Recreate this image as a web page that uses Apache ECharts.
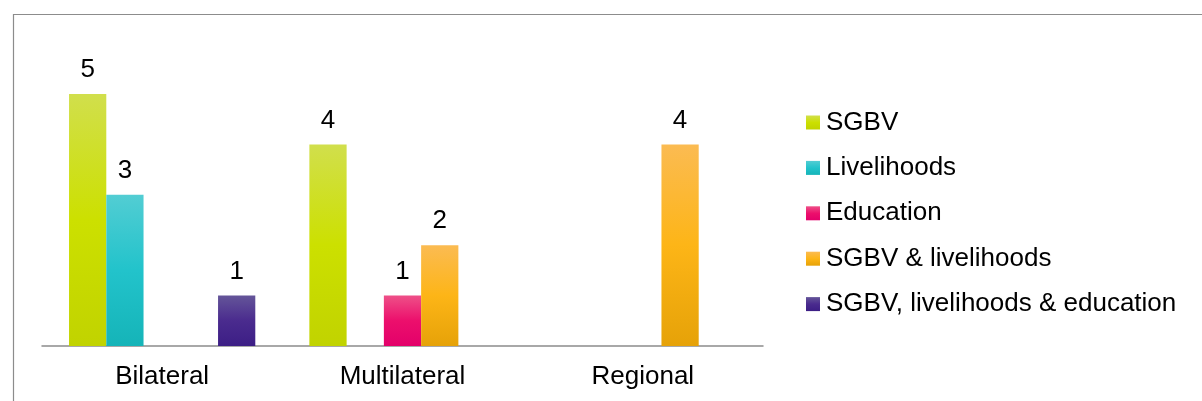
<!DOCTYPE html>
<html>
<head>
<meta charset="utf-8">
<script src="https://cdn.jsdelivr.net/npm/echarts@6/dist/echarts.min.js"></script>
<style>
html,body{margin:0;padding:0;background:#fff;}
#chart{width:1202px;height:401px;}
</style>
</head>
<body>
<div id="chart"></div>
<script>
var categories = ['Bilateral', 'Multilateral', 'Regional'];
var seriesNames = ['SGBV', 'Livelihoods', 'Education', 'SGBV & livelihoods', 'SGBV, livelihoods & education'];
var sgbv = [5, 4, null];
var livelihoods = [3, null, null];
var education = [null, 1, null];
var sgbvLivelihoods = [null, 2, 4];
var sgbvLivEdu = [1, null, null];

var seriesData = [sgbv, livelihoods, education, sgbvLivelihoods, sgbvLivEdu];
var gradients = [
  ['#d1df4c', '#cce000', '#c1d300'],
  ['#52cdd3', '#22c3cb', '#15b4b8'],
  ['#ee5088', '#ec0f6c', '#e3006a'],
  ['#fbbb52', '#fdb517', '#e6a208'],
  ['#645599', '#4a2b8e', '#3c1e85']
];

function grad(c) {
  return new echarts.graphic.LinearGradient(0, 0, 0, 1, [
    {offset: 0, color: c[0]},
    {offset: 0.5, color: c[1]},
    {offset: 1, color: c[2]}
  ]);
}

var FONT = 'Liberation Sans, Arial, sans-serif';

var chart = echarts.init(document.getElementById('chart'), null, {renderer: 'canvas'});
chart.setOption({
  animation: false,
  backgroundColor: '#fff',
  graphic: [{
    type: 'rect',
    shape: {x: 13.5, y: 14.5, width: 1300, height: 500},
    style: {fill: 'none', stroke: '#8c8c8c', lineWidth: 1.2},
    silent: true
  }],
  grid: {left: 42, right: 439, top: 43.6, bottom: 55, containLabel: false},
  legend: {
    orient: 'vertical',
    left: 801,
    top: 104.5,
    itemWidth: 14,
    itemHeight: 14,
    itemGap: 19.4,
    icon: 'rect',
    data: seriesNames,
    textStyle: {fontFamily: FONT, fontSize: 26, color: '#000', padding: [0, 0, 0, 1]}
  },
  xAxis: {
    type: 'category',
    data: categories,
    axisLine: {lineStyle: {color: '#8c8c8c', width: 1.5}},
    axisTick: {show: false},
    axisLabel: {fontFamily: FONT, fontSize: 26, color: '#000', margin: 18}
  },
  yAxis: {
    type: 'value',
    min: 0,
    max: 6,
    show: false,
    splitLine: {show: false}
  },
  series: seriesNames.map(function (name, i) {
    return {
      name: name,
      type: 'bar',
      data: seriesData[i],
      barGap: '0%',
      barCategoryGap: '22.5%',
      itemStyle: {color: grad(gradients[i])},
      label: {
        show: true,
        position: 'top',
        distance: 11,
        fontFamily: FONT,
        fontSize: 26,
        color: '#000'
      }
    };
  })
});
</script>
</body>
</html>
